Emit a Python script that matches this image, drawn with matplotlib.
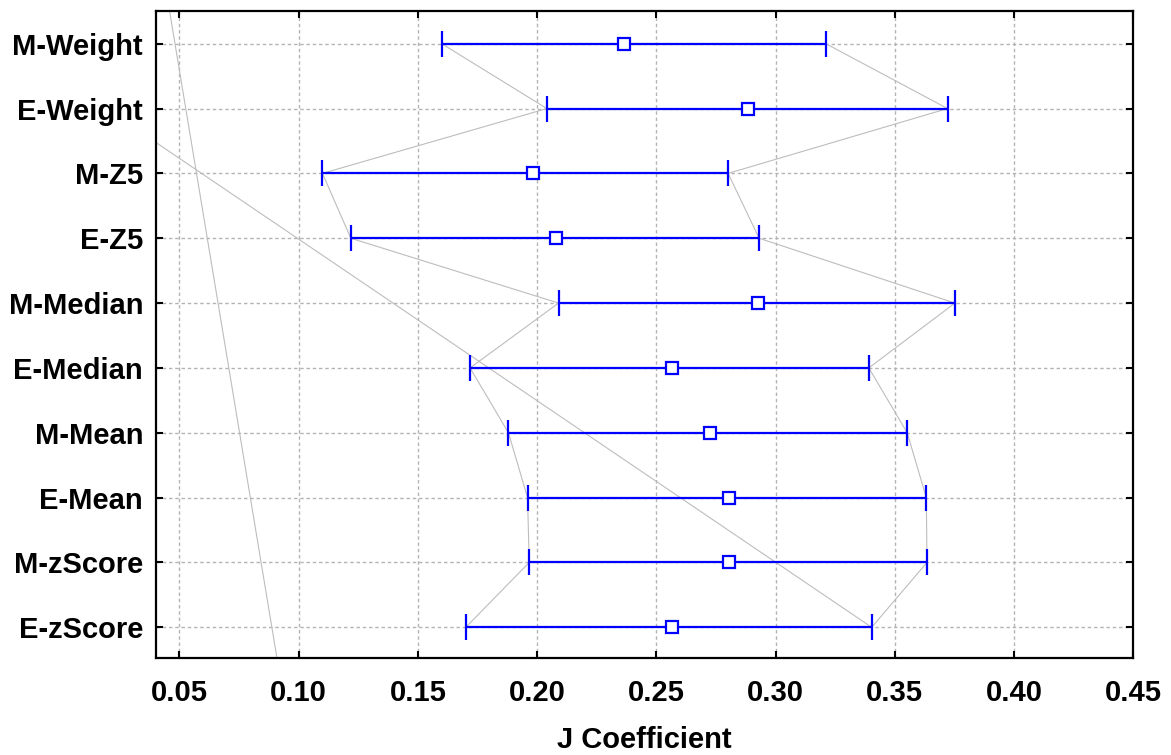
import matplotlib
matplotlib.use("Agg")
import matplotlib.pyplot as plt

categories = ["M-Weight", "E-Weight", "M-Z5", "E-Z5", "M-Median", "E-Median",
              "M-Mean", "E-Mean", "M-zScore", "E-zScore"]
means = [0.2365, 0.2883, 0.1981, 0.2081, 0.2927, 0.2565, 0.2727, 0.2804, 0.2804, 0.2565]
lows = [0.1600, 0.2041, 0.1100, 0.1219, 0.2090, 0.1719, 0.1880, 0.1960, 0.1967, 0.1701]
highs = [0.3211, 0.3721, 0.2801, 0.2931, 0.3752, 0.3391, 0.3552, 0.3632, 0.3635, 0.3403]

# extra stray gray lines visible in the original (data coords: x value, category position)
stray1_x = [0.3403, 0.0]
stray1_y = [9.0, 0.522]
stray2_x = [0.04366, 0.0933]
stray2_y = [-1.0, 10.0]

xticks = [0.05, 0.10, 0.15, 0.20, 0.25, 0.30, 0.35, 0.40, 0.45]

plt.rcParams['font.family'] = ['Liberation Sans', 'DejaVu Sans']

fig = plt.figure(figsize=(11.71, 7.55), dpi=100)
ax = fig.add_axes([0.1328, 0.1285, 0.8350, 0.8569])

pos = list(range(len(categories)))

gray = "#bdbdbd"
ax.plot(lows, pos, color=gray, lw=0.8, zorder=2)
ax.plot(highs, pos, color=gray, lw=0.8, zorder=2)
ax.plot(stray1_x, stray1_y, color=gray, lw=0.8, zorder=2)
ax.plot(stray2_x, stray2_y, color=gray, lw=0.8, zorder=2)

xerr = [[m - l for m, l in zip(means, lows)], [h - m for m, h in zip(means, highs)]]
ax.errorbar(means, pos, xerr=xerr, fmt='s', color='#0000ff', ecolor='#0000ff',
            elinewidth=1.6, capsize=9.7, capthick=1.6,
            markersize=9, markerfacecolor='white', markeredgecolor='#0000ff',
            markeredgewidth=1.6, zorder=4)

ax.set_xlim(0.04, 0.45)
ax.set_ylim(9.473, -0.504)
ax.set_xticks(xticks)
ax.set_xticklabels([f"{t:.2f}" for t in xticks])
ax.set_yticks(pos)
ax.set_yticklabels(categories)

ax.grid(True, color='#b4b4b4', linestyle=(0, (2.5, 2.0)), lw=1.0, zorder=0)
ax.set_axisbelow(True)

for s in ax.spines.values():
    s.set_linewidth(1.6)
    s.set_color('black')

ax.tick_params(axis='both', direction='in', length=5, width=1.5,
               top=True, right=True, labelsize=21)
ax.tick_params(axis='x', pad=15)
ax.tick_params(axis='y', pad=9)
for lab in ax.get_xticklabels() + ax.get_yticklabels():
    lab.set_fontweight('bold')

ax.set_xlabel("J Coefficient", fontsize=21, fontweight='bold', labelpad=14)

fig.savefig("out.png", dpi=100)
